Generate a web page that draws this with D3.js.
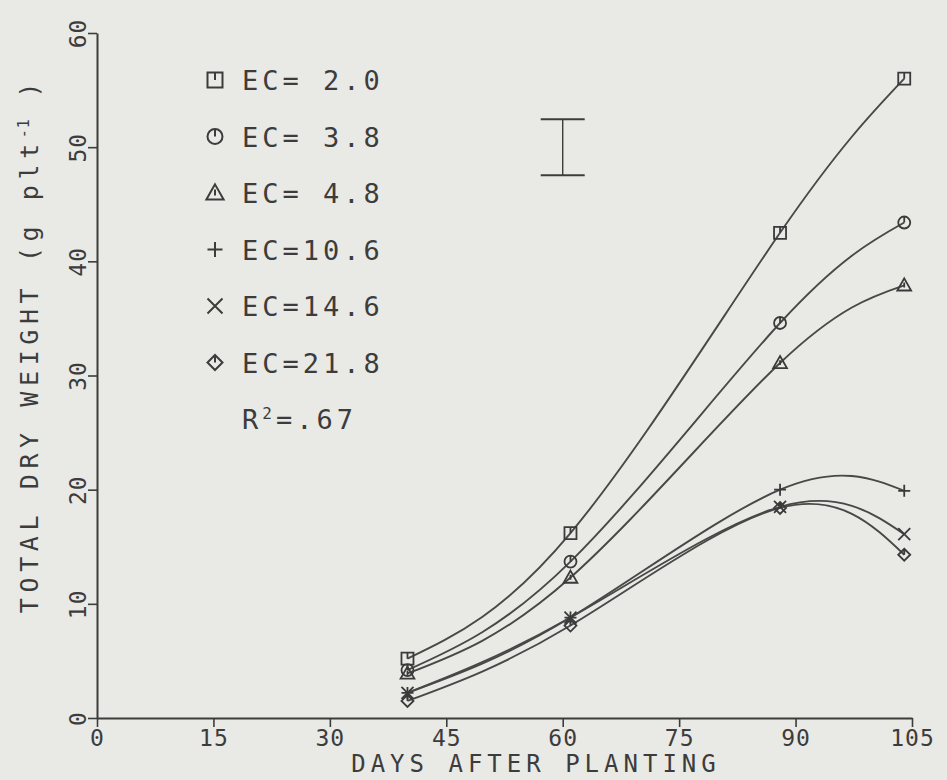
<!DOCTYPE html>
<html>
<head>
<meta charset="utf-8">
<script src="https://cdn.jsdelivr.net/npm/d3@7"></script>
<style>
  html, body { margin: 0; background: #e9e9e6; }
  svg { display: block; }
  text { font-family: "DejaVu Sans Mono", monospace; fill: #3c3c3c; }
</style>
</head>
<body>
<svg id="chart" width="947" height="780"></svg>
<script>
// Sampling dates (days after planting)
const days = [40, 61, 88, 104];

// Salinity treatments (EC, dS/m) and total dry weight per plant (g)
const ecLabels = ["EC= 2.0", "EC= 3.8", "EC= 4.8", "EC=10.6", "EC=14.6", "EC=21.8"];
const markerTypes = ["square", "circle", "triangle", "plus", "times", "diamond"];
const ec20 = [5.2, 16.2, 42.5, 56.0];
const ec38 = [4.2, 13.7, 34.6, 43.4];
const ec48 = [3.9, 12.3, 31.1, 37.9];
const ec106 = [2.2, 8.8, 20.0, 19.9];
const ec146 = [2.2, 8.8, 18.5, 16.1];
const ec218 = [1.5, 8.1, 18.4, 14.3];
const seriesValues = [ec20, ec38, ec48, ec106, ec146, ec218];

// Axis ticks
const xTicks = [0, 15, 30, 45, 60, 75, 90, 105];
const yTicks = [0, 10, 20, 30, 40, 50, 60];

// LSD bar and fit statistic
const lsdDay = 60;
const lsdRange = [47.55, 52.45];
const rSquared = ".67";

const svg = d3.select("#chart");
const ink = "#3c3c3c";

const x = d3.scaleLinear().domain([0, 105]).range([97, 912]);
const y = d3.scaleLinear().domain([0, 60]).range([718, 33]);

// Marker path generators (shape only, centred on 0,0)
function markerPath(type, s) {
  const h = s / 2;
  switch (type) {
    case "square":
      return `M${-h},${-h}H${h}V${h}H${-h}Z M0,${-h}V0`;
    case "circle":
      return `M${h},0A${h},${h} 0 1,1 ${-h},0A${h},${h} 0 1,1 ${h},0Z M0,${-h}V0`;
    case "triangle": {
      const t = h * 1.15;
      return `M0,${-t}L${t},${t * 0.75}H${-t}Z M0,${-t * 0.4}V${t * 0.3}`;
    }
    case "plus":
      return `M${-h},0H${h}M0,${-h}V${h}`;
    case "times":
      return `M${-h},${-h}L${h},${h}M${h},${-h}L${-h},${h}`;
    case "diamond":
      return `M0,${-h}L${h},0L0,${h}L${-h},0Z M0,${-h}V0`;
  }
}

// Axes
const xAxis = d3.axisBottom(x).tickValues(xTicks).tickSize(9).tickSizeOuter(0).tickFormat(d3.format("d"));
const yAxis = d3.axisLeft(y).tickValues(yTicks).tickSize(9).tickSizeOuter(0).tickFormat(d3.format("d"));

const gx = svg.append("g").attr("transform", `translate(0,${y(0)})`).call(xAxis);
const gy = svg.append("g").attr("transform", `translate(${x(0)},0)`).call(yAxis);

[gx, gy].forEach(g => {
  g.selectAll("path.domain").attr("stroke", ink).attr("stroke-width", 2);
  g.selectAll(".tick line").attr("stroke", ink).attr("stroke-width", 1.6);
  g.selectAll(".tick text")
    .attr("fill", ink)
    .style("font-family", '"DejaVu Sans Mono", monospace')
    .style("font-size", "23px")
    .style("letter-spacing", "1px");
});

gx.selectAll(".tick text").attr("y", 28).attr("dy", 0);
gy.selectAll(".tick text")
  .attr("x", 0).attr("dy", 0)
  .attr("text-anchor", "middle")
  .attr("transform", "translate(-11,0) rotate(-90)");

// Axis titles
svg.append("text")
  .attr("x", 536).attr("y", 772)
  .attr("text-anchor", "middle")
  .style("font-size", "24px")
  .style("letter-spacing", "5px")
  .text("DAYS AFTER PLANTING");

const yTitle = svg.append("text")
  .attr("text-anchor", "middle")
  .attr("transform", "translate(38,345) rotate(-90)")
  .style("font-size", "25px")
  .style("letter-spacing", "5.6px");
yTitle.append("tspan").text("TOTAL DRY WEIGHT (g plt");
yTitle.append("tspan").attr("dy", -9).style("font-size", "15px").style("letter-spacing", "1px").text("-1");
yTitle.append("tspan").attr("dy", 9).text(" )");

// Fitted growth curves (smooth spline through the sampling means)
const line = d3.line()
  .x(d => x(d[0]))
  .y(d => y(d[1]))
  .curve(d3.curveNatural);

const series = seriesValues.map((vals, i) => ({
  type: markerTypes[i],
  points: days.map((d, j) => [d, vals[j]])
}));

svg.append("g")
  .selectAll("path")
  .data(series)
  .join("path")
  .attr("d", d => line(d.points))
  .attr("fill", "none")
  .attr("stroke", "#484848")
  .attr("stroke-width", 1.9);

// Observed means
const markers = svg.append("g");
series.forEach(s => {
  markers.selectAll(null)
    .data(s.points)
    .join("path")
    .attr("transform", d => `translate(${x(d[0])},${y(d[1])})`)
    .attr("d", markerPath(s.type, 12))
    .attr("fill", "none")
    .attr("stroke", "#3a3a3a")
    .attr("stroke-width", 1.8);
});

// LSD bar
const lsd = svg.append("g").attr("stroke", ink).attr("stroke-width", 2);
lsd.append("line").attr("x1", x(lsdDay)).attr("x2", x(lsdDay)).attr("y1", y(lsdRange[0])).attr("y2", y(lsdRange[1])).attr("stroke-width", 1.4);
lsdRange.forEach(v => {
  lsd.append("line")
    .attr("x1", x(lsdDay) - 22).attr("x2", x(lsdDay) + 22)
    .attr("y1", y(v)).attr("y2", y(v));
});

// Legend
const legendTop = 80, legendStep = 56.5;
const legend = svg.append("g");
ecLabels.forEach((lab, i) => {
  const cy = legendTop + i * legendStep;
  legend.append("path")
    .attr("transform", `translate(215,${cy})`)
    .attr("d", markerPath(markerTypes[i], 15))
    .attr("fill", "none")
    .attr("stroke", ink)
    .attr("stroke-width", 2);
  legend.append("text")
    .attr("x", 242).attr("y", cy + 10)
    .style("font-size", "27px")
    .style("letter-spacing", "4px")
    .text(lab);
});

const r2 = legend.append("text")
  .attr("x", 242).attr("y", legendTop + 6 * legendStep + 10)
  .style("font-size", "27px")
  .style("letter-spacing", "4px");
r2.append("tspan").text("R");
r2.append("tspan").attr("dy", -10).style("font-size", "16px").text("2");
r2.append("tspan").attr("dy", 10).text("=" + rSquared);
</script>
</body>
</html>
